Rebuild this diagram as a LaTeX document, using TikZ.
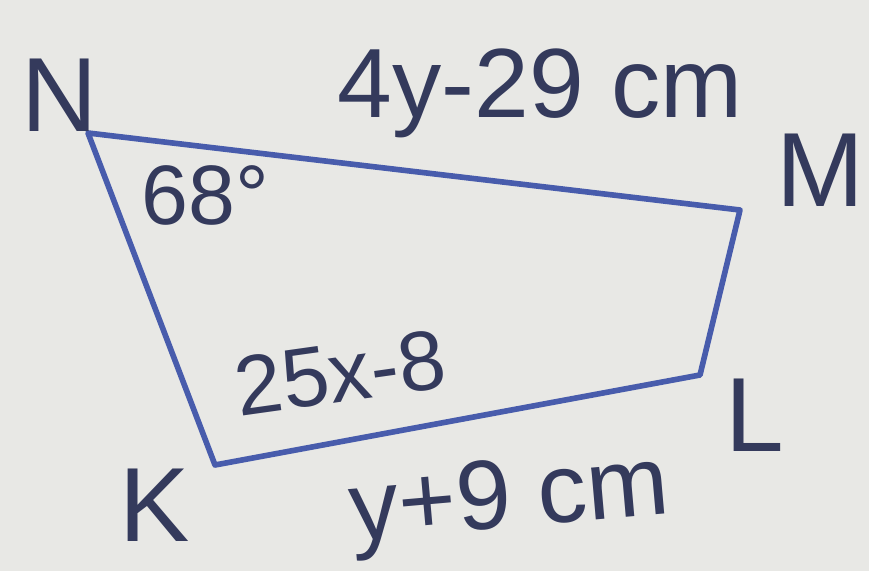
\documentclass[tikz,border=0pt]{standalone}
\usepackage{fontspec}
\setmainfont{Liberation Sans}
\usepackage{xcolor}
\definecolor{paper}{RGB}{232,232,229}
\definecolor{pen}{RGB}{72,92,172}
\definecolor{ink}{RGB}{52,58,92}
\usetikzlibrary{positioning}

\begin{document}
\begin{tikzpicture}[
  side/.style={draw=pen, line width=1.6pt, line join=round},
  vlab/.style={text=ink, font=\fontsize{30}{32}\selectfont, inner sep=0pt},
  mlab/.style={text=ink, font=\fontsize{28}{30}\selectfont, inner sep=0pt},
  alab/.style={text=ink, font=\fontsize{24}{26}\selectfont, inner sep=0pt}
]
\fill[paper] (0,0) rectangle (8.69,5.71);
\useasboundingbox (0,0) rectangle (8.69,5.71);

% corners of the quadrilateral
\coordinate (N) at (0.88,4.38);
\coordinate (M) at (7.40,3.61);
\coordinate (L) at (7.00,1.96);
\coordinate (K) at (2.15,1.06);

\draw[side] (N) -- (M) -- (L) -- (K) -- cycle;

% vertex names
\node[vlab] (nN) at (0.60,4.76) {N};
\node[vlab] (nM) at (8.20,4.01) {M};
\node[vlab] (nL) at (7.55,1.56) {L};
\node[vlab] (nK) at (1.55,0.66) {K};

% measures
\node[mlab] (top) at (5.40,4.78) {4y-29 cm};
\node[mlab, rotate=5] (bot) at (5.10,0.68) {y+9 cm};
\node[alab] (angN) at (2.05,3.76) {68°};
\node[alab, rotate=8] (angK) at (3.40,1.98) {25x-8};
\end{tikzpicture}
\end{document}
